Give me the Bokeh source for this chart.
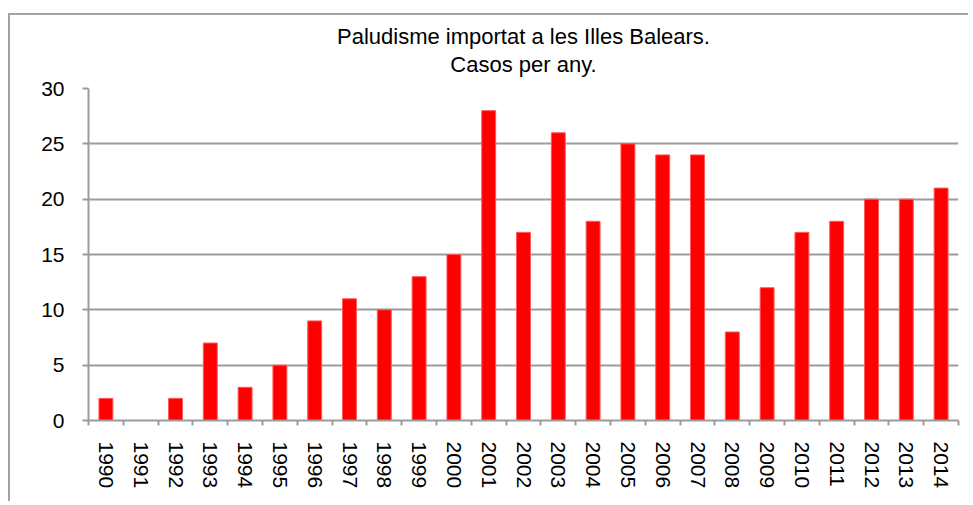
from bokeh.plotting import figure
from bokeh.models import FixedTicker, Range1d, Title, LinearAxis
from bokeh.embed import file_html
from bokeh.resources import INLINE

years = ["1990", "1991", "1992", "1993", "1994", "1995", "1996", "1997", "1998", "1999",
         "2000", "2001", "2002", "2003", "2004", "2005", "2006", "2007", "2008", "2009",
         "2010", "2011", "2012", "2013", "2014"]
cases = [2, 0, 2, 7, 3, 5, 9, 11, 10, 13, 15, 28, 17, 26, 18, 25, 24, 24, 8, 12, 17, 18, 20, 20, 21]
y_ticks = [0, 5, 10, 15, 20, 25, 30]
title_lines = ["Paludisme importat a les Illes Balears.", "Casos per any."]

FONT = "Liberation Sans"
GRAY = "#9c9c9c"
FS = "21px"

idx = list(range(len(years)))

p = figure(width=960, height=488, output_backend="svg", toolbar_location=None,
           x_range=Range1d(-0.5, len(years) - 0.5), y_range=Range1d(0, 30),
           x_axis_type=None, min_border_left=78, min_border_right=12,
           min_border_top=73, min_border_bottom=83)
p.styles = {"border-left": "2px solid #a3a3a3", "border-top": "2px solid #a3a3a3",
            "margin-top": "13px", "margin-left": "8px"}
p.outline_line_color = None
p.background_fill_color = "white"
p.border_fill_color = "white"

p.vbar(x=idx, top=cases, width=0.4, fill_color="#ff0000", line_color="#ff5a5a", line_width=1)

xaxis = LinearAxis(ticker=FixedTicker(ticks=idx, minor_ticks=[i - 0.5 for i in range(len(years) + 1)]))
xaxis.major_label_overrides = {i: y for i, y in zip(idx, years)}
xaxis.major_label_orientation = "vertical"
xaxis.major_tick_out = 0
xaxis.major_tick_in = 0
xaxis.minor_tick_out = 5
xaxis.minor_tick_in = 0
xaxis.minor_tick_line_color = GRAY
xaxis.minor_tick_line_width = 2
xaxis.axis_line_color = GRAY
xaxis.axis_line_width = 2
xaxis.major_label_text_font = FONT
xaxis.major_label_text_font_size = FS
xaxis.major_label_text_color = "black"
xaxis.major_label_standoff = 16
p.add_layout(xaxis, "below")

p.yaxis.ticker = FixedTicker(ticks=y_ticks)
p.yaxis.axis_line_color = GRAY
p.yaxis.axis_line_width = 2
p.yaxis.major_tick_line_color = GRAY
p.yaxis.major_tick_line_width = 2
p.yaxis.major_tick_out = 6
p.yaxis.major_tick_in = 0
p.yaxis.minor_tick_line_color = None
p.yaxis.major_label_text_font = FONT
p.yaxis.major_label_text_font_size = FS
p.yaxis.major_label_text_color = "black"
p.yaxis.major_label_standoff = 18

p.ygrid.ticker = FixedTicker(ticks=y_ticks)
p.ygrid.grid_line_color = GRAY
p.ygrid.grid_line_width = 2

# spacer between frame and title, then the two title lines (nearest line first)
p.add_layout(Title(text=" ", text_font_size="1px", standoff=8), "above")
for line, so in zip(reversed(title_lines), [2, 0]):
    p.add_layout(Title(text=line, align="center", text_font=FONT, text_font_size="22px",
                       text_font_style="normal", text_color="black", text_line_height=0.75,
                       standoff=so), "above")

open("out.html", "w").write(file_html(p, INLINE))
